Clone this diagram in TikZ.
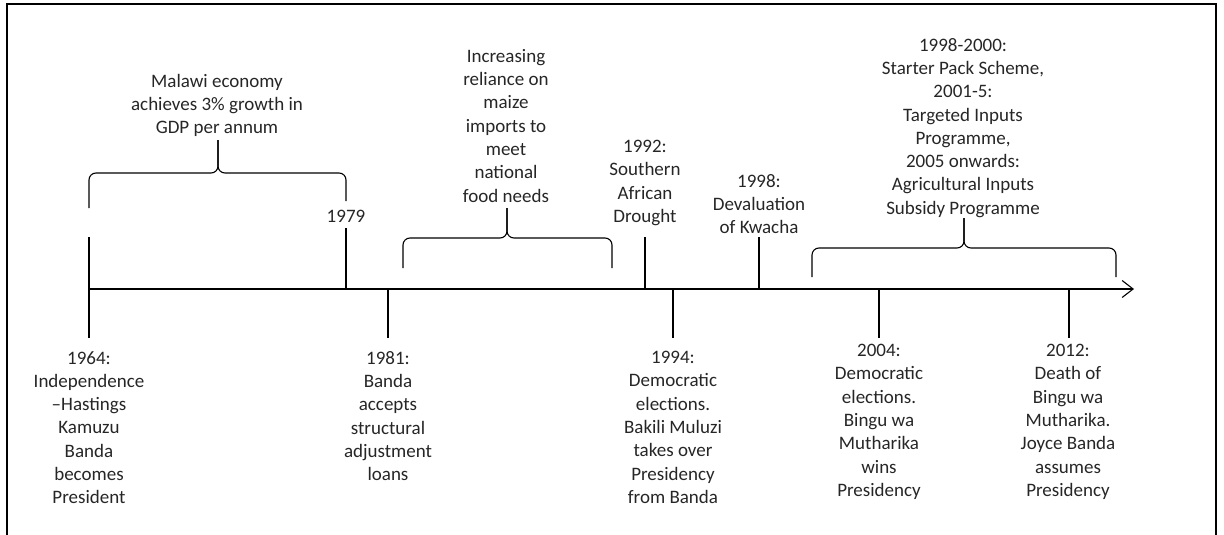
\documentclass[tikz,border=0pt]{standalone}
\usepackage{fontspec}
\setmainfont{Carlito}
\usetikzlibrary{calc,arrows.meta}
\tikzset{
  evt/.style={align=center,inner sep=0pt,anchor=north,text=black!85,
    font=\fontsize{19}{23.3}\selectfont},
  stem/.style={line width=1.1pt},
  bracket/.style={line width=1.1pt,rounded corners=7pt}
}
\begin{document}
\begin{tikzpicture}[x=1pt,y=-1pt]
    \useasboundingbox (0,0) rectangle (1224,535);
    \draw[line width=2pt](7,545)--(7,4)--(1216,4)--(1216,545);
    % time axis
    \coordinate (start) at (89,289);
    \coordinate (end) at (1134,289);
    \draw[stem,-{Straight Barb[length=11pt,width=17pt]}](start)--(end);
    % events above the axis
    \node[evt] (t1979) at (346,210) {1979};
    \node[evt] (t1992) at (645,140) {1992:\\Southern\\African\\Drought};
    \node[evt] (t1998) at (759,174) {1998:\\Devaluation\\of Kwacha};
    \coordinate (a1964) at (89,237);
    \coordinate (a1979) at (346,228);
    \coordinate (x1979) at (346,289);
    \coordinate (a1992) at (645,237);
    \coordinate (x1992) at (645,289);
    \coordinate (a1998) at (759,237);
    \coordinate (x1998) at (759,289);
    \draw[stem](a1979)--(x1979);
    \draw[stem](a1992)--(x1992);
    \draw[stem](a1998)--(x1998);
    % events below the axis
    \node[evt] (t1964) at (89,351) {1964:\\Independence\\--Hastings\\Kamuzu\\Banda\\becomes\\President};
    \node[evt] (t1981) at (388,351) {1981:\\Banda\\accepts\\structural\\adjustment\\loans};
    \node[evt] (t1994) at (673,351) {1994:\\Democratic\\elections.\\Bakili Muluzi\\takes over\\Presidency\\from Banda};
    \node[evt] (t2004) at (879,344) {2004:\\Democratic\\elections.\\Bingu wa\\Mutharika\\wins\\Presidency};
    \node[evt] (t2012) at (1068,344) {2012:\\Death of\\Bingu wa\\Mutharika.\\Joyce Banda\\assumes\\Presidency};
    \coordinate (b1964) at (89,338);
    \coordinate (x1981) at (388,289);
    \coordinate (b1981) at (388,338);
    \coordinate (x1994) at (673,289);
    \coordinate (b1994) at (673,338);
    \coordinate (x2004) at (879,289);
    \coordinate (b2004) at (879,338);
    \coordinate (x2012) at (1069,289);
    \coordinate (b2012) at (1069,338);
    \draw[stem](a1964)--(b1964);
    \draw[stem](x1981)--(b1981);
    \draw[stem](x1994)--(b1994);
    \draw[stem](x2004)--(b2004);
    \draw[stem](x2012)--(b2012);
    % periods
    \node[evt] (growth) at (217,74) {Malawi economy\\achieves 3\% growth in\\GDP per annum};
    \node[evt] (maize) at (506,49) {Increasing\\reliance on\\maize\\imports to\\meet\\national\\food needs};
    \node[evt] (inputs) at (963,38) {1998-2000:\\Starter Pack Scheme,\\2001-5:\\Targeted Inputs\\Programme,\\2005 onwards:\\Agricultural Inputs\\Subsidy Programme};
    \coordinate (g1) at (89,208);
    \coordinate (g2) at (346,201);
    \coordinate (gtip) at (218,140);
    \draw[bracket](g1)--(89,173)--(218,173)--(gtip);
    \draw[bracket](g2)--(346,173)--(218,173)--(gtip);
    \coordinate (m1) at (403,268);
    \coordinate (m2) at (612,268);
    \coordinate (mtip) at (507,208);
    \draw[bracket](m1)--(403,238)--(507,238)--(mtip);
    \draw[bracket](m2)--(612,238)--(507,238)--(mtip);
    \coordinate (i1) at (812,277);
    \coordinate (i2) at (1116,277);
    \coordinate (itip) at (964,218);
    \draw[bracket](i1)--(812,248)--(964,248)--(itip);
    \draw[bracket](i2)--(1116,248)--(964,248)--(itip);
\end{tikzpicture}
\end{document}
